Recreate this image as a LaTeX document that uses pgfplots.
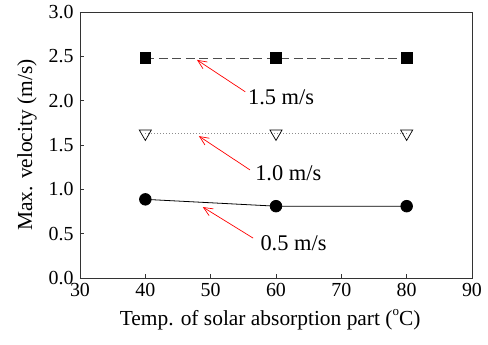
\documentclass[border=0pt]{standalone}
\usepackage{pgfplots}
\pgfplotsset{compat=1.18}
\usetikzlibrary{arrows.meta}
\usepackage{fontspec}
\setmainfont{Liberation Serif}
\begin{document}
\begin{tikzpicture}[x=1bp,y=1bp]
\begin{axis}[
  scale only axis, width=392bp, height=266bp,
  at={(0,0)}, anchor=south west,
  xmin=30, xmax=90, ymin=0, ymax=3.0,
  xtick={30,40,...,90}, ytick={0,0.5,...,3.0},
  xticklabels={\textrm{30},\textrm{40},\textrm{50},\textrm{60},\textrm{70},\textrm{80},\textrm{90}},
  yticklabels={\textrm{0.0},\textrm{0.5},\textrm{1.0},\textrm{1.5},\textrm{2.0},\textrm{2.5},\textrm{3.0}},
  tick align=inside, major tick length=4bp,
  xtick pos=bottom, ytick pos=left,
  tick style={line width=0.6pt, black!80},
  tick label style={font=\fontsize{20}{22}\selectfont\rmfamily},
  yticklabel style={xshift=-3bp},
  xticklabel style={yshift=-2bp},
  xlabel={Temp. of solar absorption part (\raisebox{0.45em}{\fontsize{13}{13}\selectfont o}C)},
  ylabel={Max. velocity (m/s)},
  xlabel style={font=\fontsize{21.5}{23}\selectfont, at={(axis description cs:0.485,-0.158)}, anchor=center},
  ylabel style={font=\fontsize{21.5}{23}\selectfont, at={(axis description cs:-0.135,0.5)}, anchor=center},
  axis line style={line width=0.7pt, black!80},
  clip=false,
]
\addplot[black!70, line width=0.8pt, dash pattern=on 9bp off 4.5bp, mark=square*, mark size=5.4bp, mark options={solid, black}]
  coordinates {(40,2.48) (60,2.48) (80,2.48)};
\addplot[black!45, line width=0.8pt, dash pattern=on 1bp off 2bp, mark=triangle, mark size=7bp, mark options={solid, black, line width=0.7pt, rotate=180}]
  coordinates {(40,1.63) (60,1.63) (80,1.63)};
\addplot[black, line width=0.8pt, mark=*, mark size=5.8bp]
  coordinates {(40,0.887) (60,0.81) (80,0.81)};
\tikzset{ann/.style={red, line width=0.7pt, -{Straight Barb[length=9bp, width=8bp]}}}
\draw[ann] (axis cs:55.3,2.10) -- (axis cs:47.9,2.46);
\draw[ann] (axis cs:56.0,1.22) -- (axis cs:48.2,1.60);
\draw[ann] (axis cs:56.5,0.45) -- (axis cs:48.8,0.80);
\node[anchor=west, font=\fontsize{22.5}{24}\selectfont, inner sep=0pt] at (axis cs:55.7,2.04) {1.5 m/s};
\node[anchor=west, font=\fontsize{22.5}{24}\selectfont, inner sep=0pt] at (axis cs:56.8,1.18) {1.0 m/s};
\node[anchor=west, font=\fontsize{22.5}{24}\selectfont, inner sep=0pt] at (axis cs:57.6,0.39) {0.5 m/s};
\end{axis}
\pgfresetboundingbox
\path (-80bp,-67bp) rectangle (408bp,278bp);
\end{tikzpicture}
\end{document}
